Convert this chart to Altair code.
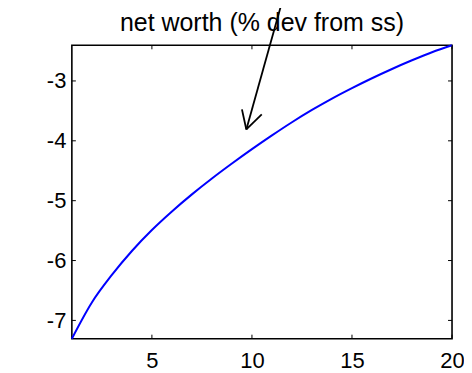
import altair as alt
import pandas as pd

# ---- data ----
periods = list(range(1, 21))
net_worth = [-7.305, -6.70, -6.24, -5.84, -5.49, -5.18, -4.895, -4.63, -4.38, -4.14,
             -3.91, -3.69, -3.485, -3.295, -3.12, -2.955, -2.80, -2.655, -2.52, -2.405]
x_ticks = [5, 10, 15, 20]
y_ticks = [-7, -6, -5, -4, -3]
title_text = ["net worth (% dev from ss)"]

# annotation arrow (shaft + two head strokes), in data units
arrow_x0 = [11.52, 9.50, 10.49]
arrow_y0 = [-1.66, -3.475, -3.56]
arrow_x1 = [9.72, 9.72, 9.72]
arrow_y1 = [-3.81, -3.81, -3.81]

W, H = 381, 294
FONT = "Liberation Sans"

df = pd.DataFrame({"t": periods, "v": net_worth})
xt = pd.DataFrame({"t": x_ticks})
yt = pd.DataFrame({"v": y_ticks})
arr = pd.DataFrame({"x0": arrow_x0, "y0": arrow_y0, "x1": arrow_x1, "y1": arrow_y1})
ttl = pd.DataFrame({"label": title_text})

xscale = alt.Scale(domain=[1, 20], nice=False, zero=False)
yscale = alt.Scale(domain=[-7.305, -2.405], nice=False, zero=False)

hyphen_expr = "datum.value < 0 ? '-' + abs(datum.value) : '' + datum.value"

line = alt.Chart(df).mark_line(color="#0000ff", strokeWidth=2, interpolate="monotone").encode(
    x=alt.X("t:Q", scale=xscale, title=None,
            axis=alt.Axis(values=x_ticks, ticks=False, domain=False, grid=False,
                          labelFontSize=22, labelFont=FONT, labelColor="black",
                          labelPadding=12, labelFlush=False, labelExpr=hyphen_expr)),
    y=alt.Y("v:Q", scale=yscale, title=None,
            axis=alt.Axis(values=y_ticks, ticks=False, domain=False, grid=False,
                          labelFontSize=22, labelFont=FONT, labelColor="black",
                          labelPadding=6, labelFlush=False, labelExpr=hyphen_expr)),
)

tick_style = dict(color="black", strokeWidth=1)
xb = alt.Chart(xt).mark_rule(**tick_style).encode(
    x=alt.X("t:Q", scale=xscale), y=alt.value(H), y2=alt.value(H - 4))
xtop = alt.Chart(xt).mark_rule(**tick_style).encode(
    x=alt.X("t:Q", scale=xscale), y=alt.value(0), y2=alt.value(4))
yl = alt.Chart(yt).mark_rule(**tick_style).encode(
    y=alt.Y("v:Q", scale=yscale), x=alt.value(0), x2=alt.value(4))
yr = alt.Chart(yt).mark_rule(**tick_style).encode(
    y=alt.Y("v:Q", scale=yscale), x=alt.value(W), x2=alt.value(W - 4))

title = alt.Chart(ttl).mark_text(fontSize=25, font=FONT, color="black", align="center",
                                 baseline="alphabetic").encode(
    text="label:N", x=alt.value(W / 2), y=alt.value(-14))

arrow = alt.Chart(arr).mark_rule(color="black", strokeWidth=1.8, clip=False).encode(
    x=alt.X("x0:Q", scale=xscale), y=alt.Y("y0:Q", scale=yscale),
    x2="x1:Q", y2="y1:Q")

chart = alt.layer(line, xb, xtop, yl, yr, title, arrow).properties(
    width=W, height=H,
    autosize=alt.AutoSizeParams(type="none"),
    padding={"left": 64, "top": 37, "right": 12, "bottom": 34},
).configure(background="white").configure_view(stroke="black", strokeWidth=1.6)

chart.save("out.html", embed_options={"renderer": "svg", "actions": False})
